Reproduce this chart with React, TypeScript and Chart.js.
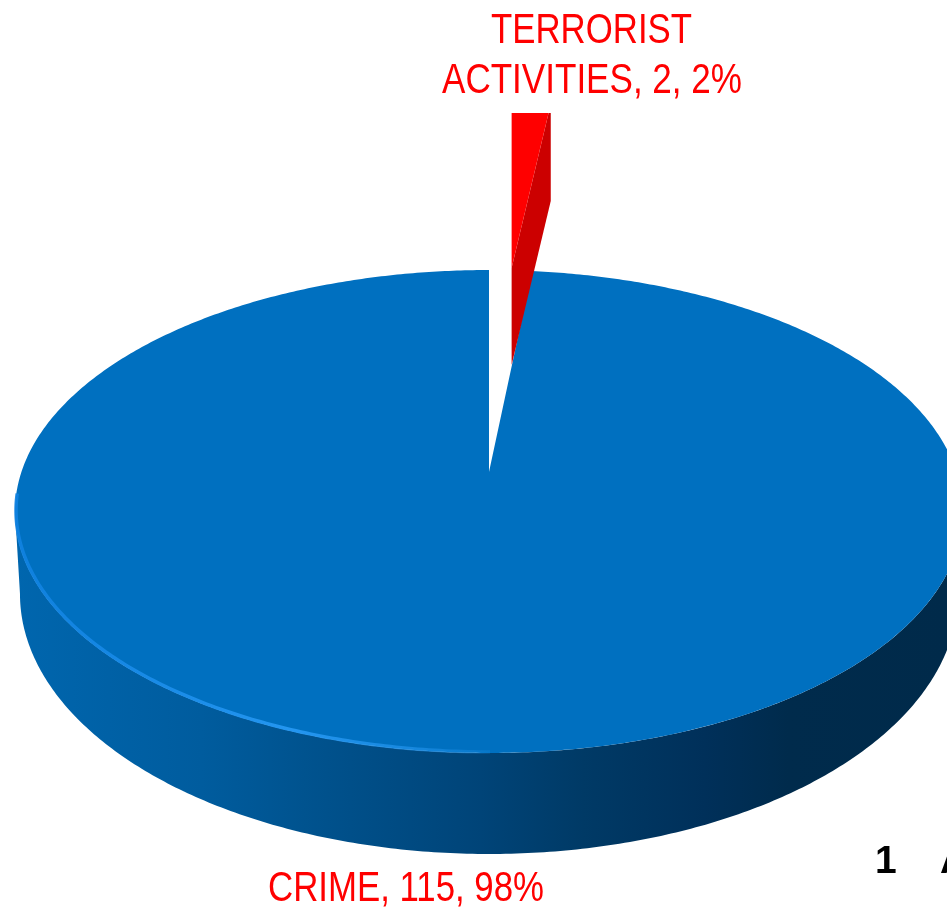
import React, { useEffect, useRef } from "react";
import { Chart, registerables } from "chart.js";

Chart.register(...registerables);

const categories = ["TERRORIST ACTIVITIES", "CRIME"];
const values = [2, 115];
const explode = [303, 0];
const topColors = ["#ff0000", "#0070c0"];
const wallColors = ["#cc0000", "#0070c0"];
const labelColor = "#ff0000";
const footerText = "1    A";

const W = 947;
const H = 908;
const PERSPECTIVE = -0.1636;
const CENTER_X = 489;

type Pt = [number, number];

const topPlane = (u: number, v: number): Pt => {
  const w = 1 + PERSPECTIVE * v;
  return [CENTER_X + (467.6 * u) / w, 472 + (235 * v) / w];
};
const bottomPlane = (u: number, v: number): Pt => {
  const w = 1 + PERSPECTIVE * v;
  return [CENTER_X + (462.7 * u) / w, 551.5 + (253 * v) / w];
};
// the exploded slice is flung back towards the top of the picture
const flungPlane = (u: number, v: number): Pt => [492 + 365 * u, 268 + (v + 1) * 165];
const FLUNG_DROP = 97;

const arcPts = (a0: number, a1: number, plane: (u: number, v: number) => Pt, du = 0, dv = 0): Pt[] => {
  const n = Math.max(2, Math.ceil(Math.abs(a1 - a0) / 0.01));
  const pts: Pt[] = [];
  for (let i = 0; i <= n; i++) {
    const a = a0 + ((a1 - a0) * i) / n;
    pts.push(plane(Math.cos(a) + du, Math.sin(a) + dv));
  }
  return pts;
};

const fillPoly = (ctx: CanvasRenderingContext2D, pts: Pt[], fill: string | CanvasGradient) => {
  ctx.beginPath();
  pts.forEach((p, i) => (i ? ctx.lineTo(p[0], p[1]) : ctx.moveTo(p[0], p[1])));
  ctx.closePath();
  ctx.fillStyle = fill;
  ctx.fill();
};

const pie3d = {
  id: "pie3d",
  beforeDatasetDraw(chart: any) {
    const ctx: CanvasRenderingContext2D = chart.ctx;
    const arcs = chart.getDatasetMeta(0).data;
    ctx.save();

    // rim wall of the big slice
    const wall = ctx.createLinearGradient(15, 0, 947, 0);
    [
      [0, "#0066ae"],
      [0.2, "#005c9e"],
      [0.31, "#00538f"],
      [0.5, "#004478"],
      [0.61, "#003a66"],
      [0.74, "#00305a"],
      [0.83, "#002b4c"],
      [1, "#002a4a"],
    ].forEach(([o, c]) => wall.addColorStop(o as number, c as string));
    const front0 = 0.1643;
    const front1 = Math.PI - 0.1643;
    fillPoly(ctx, [...arcPts(front0, front1, topPlane), ...arcPts(front1, front0, bottomPlane)], wall);

    arcs.forEach((el: any, i: number) => {
      const off = el.options.offset || 0;
      if (off) return;
      fillPoly(ctx, [topPlane(0, 0), ...arcPts(el.startAngle, el.endAngle, topPlane)], topColors[i]);
    });

    // highlight along the near-left edge
    const rim = ctx.createLinearGradient(15, 0, 520, 0);
    rim.addColorStop(0, "rgba(16,130,225,0.9)");
    rim.addColorStop(0.55, "rgba(36,150,240,1)");
    rim.addColorStop(0.8, "rgba(36,150,240,0.6)");
    rim.addColorStop(1, "rgba(36,150,240,0)");
    const rimPts = arcPts(Math.PI * 0.5, Math.PI * 0.97, (u, v) => {
      const p = topPlane(u, v);
      return [p[0] + 1, p[1] - 1];
    });
    ctx.beginPath();
    rimPts.forEach((p, k) => (k ? ctx.lineTo(p[0], p[1]) : ctx.moveTo(p[0], p[1])));
    ctx.strokeStyle = rim;
    ctx.lineWidth = 3.5;
    ctx.stroke();

    // exploded slice, cut off by the plot area's top
    ctx.beginPath();
    ctx.rect(0, 113, W, H - 113);
    ctx.clip();
    arcs.forEach((el: any, i: number) => {
      const off = el.options.offset || 0;
      if (!off) return;
      const ratio = off / el.outerRadius;
      const mid = (el.startAngle + el.endAngle) / 2;
      const du = Math.cos(mid) * ratio;
      const dv = Math.sin(mid) * ratio;
      const apex = flungPlane(du, dv);
      const edge = flungPlane(Math.cos(el.endAngle) + du, Math.sin(el.endAngle) + dv);
      fillPoly(
        ctx,
        [apex, edge, [edge[0], edge[1] + FLUNG_DROP], [apex[0], apex[1] + FLUNG_DROP]],
        wallColors[i]
      );
      fillPoly(ctx, [apex, ...arcPts(el.startAngle, el.endAngle, flungPlane, du, dv)], topColors[i]);
    });
    ctx.restore();
    return false;
  },
  afterDraw(chart: any) {
    const ctx: CanvasRenderingContext2D = chart.ctx;
    const total = values.reduce((a, b) => a + b, 0);
    const text = (i: number) => `${categories[i]}, ${values[i]}, ${Math.round((values[i] / total) * 100)}%`;
    ctx.save();
    ctx.fillStyle = labelColor;
    ctx.textAlign = "center";
    ctx.textBaseline = "alphabetic";
    ctx.font = '43px "Liberation Sans"';
    const first = text(0);
    const brk = first.indexOf(" ");
    ctx.fillText(first.slice(0, brk), 591.5, 43, 201);
    ctx.fillText(first.slice(brk + 1), 592, 93, 300);
    ctx.fillText(text(1), 406, 901, 276);
    ctx.fillStyle = "#000000";
    ctx.textAlign = "left";
    ctx.font = 'bold 39px "Liberation Sans"';
    ctx.fillText(footerText, 875, 873);
    ctx.restore();
  },
};

export default function App() {
  const ref = useRef<HTMLCanvasElement>(null);
  useEffect(() => {
    document.body.style.margin = "0";
    document.body.style.overflow = "hidden";
    const chart = new Chart(ref.current as HTMLCanvasElement, {
      type: "pie",
      data: {
        labels: categories,
        datasets: [{ data: values, backgroundColor: topColors, offset: explode, borderWidth: 0 }],
      },
      options: {
        animation: false,
        responsive: false,
        devicePixelRatio: 1,
        plugins: { legend: { display: false }, tooltip: { enabled: false } },
      },
      plugins: [pie3d],
    } as any);
    return () => chart.destroy();
  }, []);
  return <canvas ref={ref} width={W} height={H} style={{ display: "block", width: W, height: H }} />;
}
